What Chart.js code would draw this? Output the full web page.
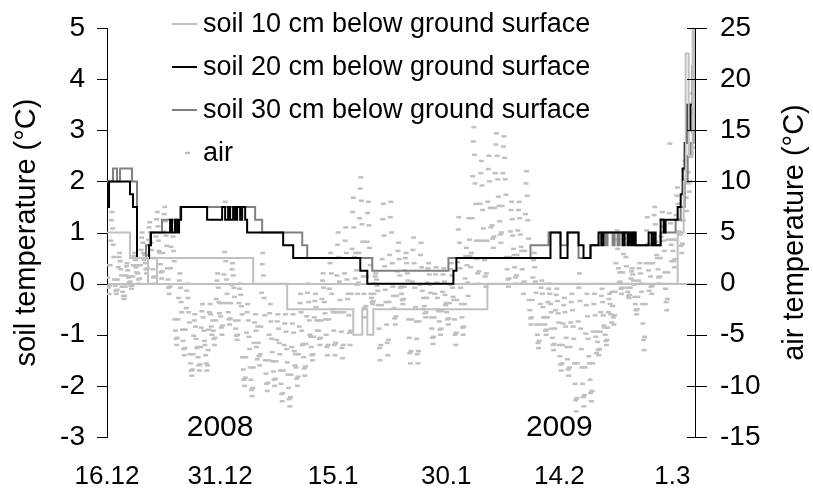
<!DOCTYPE html>
<html>
<head>
<meta charset="utf-8">
<script src="https://cdn.jsdelivr.net/npm/chart.js@4.4.1/dist/chart.umd.min.js"></script>
<style>
  html,body{margin:0;padding:0;background:#fff;}
</style>
</head>
<body>
<canvas id="chart" width="813" height="490"></canvas>
<script>
(function(){
  // x = days since 16.12.2008
  const xTickDays = [0, 15, 30, 45, 60, 75];
  const xTickLabels = ['16.12', '31.12', '15.1', '30.1', '14.2', '1.3'];
  const yearLabels = ['2008', '2009'];
  const yearDays = [15, 60];

  // soil temperature change points: [day, °C]
  const soil10 = [[0,1],[3.05,0.5],[5.44,0],[6.64,0.5],[19.39,0],[23.9,-0.5],[32.67,-1],[33.86,-0.5],[34.53,-1],[35.33,-0.5],
    [50.46,0],[75.7,1],[76.5,2],[76.76,4.5],[77.16,2.5],[77.69,5],[77.95,3],[78,3]];
  const soil20 = [[0,1.5],[0.27,2],[3.05,1.75],[3.45,1.5],[3.98,0.5],[5.58,0.75],[5.84,1],[8.37,1.25],[8.63,1],[9.03,1.25],[9.3,1],
    [9.56,1.25],[9.83,1.5],[13.28,1.25],[15.27,1.5],[15.67,1.25],[16.07,1.5],[16.33,1.25],[16.73,1.5],[17,1.25],[17.26,1.5],
    [17.66,1.25],[17.93,1.5],[18.33,1.25],[18.59,1],[23.37,0.75],[24.7,0.5],[33.6,0.25],[34.53,0],[45.95,0.25],[46.35,0.5],
    [58.83,1],[60.16,0.5],[61.09,1],[62.55,0.75],[63.21,0.5],[64.14,0.75],[65.2,1],[65.6,0.75],[65.87,1],[68.39,0.75],[68.66,1],
    [69.06,0.75],[69.32,1],[69.59,0.75],[69.85,1],[70.12,0.75],[71.85,1],[72.24,0.75],[72.51,1],[72.78,0.75],[73.44,1.25],
    [73.84,1],[74.1,1.25],[75.7,1.5],[76.1,1.75],[76.36,2.25],[76.63,2.75],[76.89,3.5],[77.16,3],[77.42,3.5],[77.69,4.25],
    [77.95,4.5],[78,4.5]];
  const soil30 = [[0,2],[0.8,2.25],[1.33,2],[1.73,2.25],[3.32,2],[3.98,0.5],[5.18,0.75],[5.71,1],[7.3,1.25],[9.7,1.5],[19.65,1.25],
    [20.58,1],[25.9,0.75],[26.56,0.5],[35.19,0.25],[45.29,0.5],[56.18,0.75],[58.57,1],[60.16,0.75],[61.09,1],[62.55,0.5],
    [64.14,0.75],[65.47,1],[66.14,0.75],[66.4,1],[67.07,0.75],[67.33,1],[67.73,0.75],[68,1],[70.12,0.75],[73.44,1],[75.43,1.25],
    [76.1,1.5],[76.63,2],[77.03,2.5],[77.42,2.75],[77.82,3.25],[78,3.25]];

  // air temperature, one reading every 2 hours from 16.12 00:00 (one row per day)
  const AIR_STEP_H = 2;
  const airTemp = [
    1.8,0.6,-0.4,-1,-0.2,1.8,4.2,6.2,7,5.4,3.8,2.6,
    0.4,-0.2,-0.7,-1,-0.6,0.4,1.6,2.6,3,2.2,1.4,0.8,
    -0.3,-0.8,-1.2,-1.5,-1.2,-0.3,0.8,1.7,2,1.3,0.6,0.1,
    0.7,0.2,-0.2,-0.5,-0.2,0.7,1.8,2.7,3,2.3,1.6,1.1,
    1.8,1,0.4,0,0.5,1.8,3.3,4.5,5,4,3,2.3,
    2.8,2,1.4,1,1.5,2.8,4.3,5.5,6,5,4,3.3,
    2.5,1.4,0.6,0,0.7,2.5,4.6,6.3,7,5.6,4.2,3.2,
    3,1.9,1.1,0.5,1.2,3,5.1,6.8,7.5,6.1,4.7,3.7,
    1.5,0.4,-0.4,-1,-0.3,1.5,3.6,5.3,6,4.6,3.2,2.2,
    -3.5,-4.6,-5.4,-6,-5.3,-3.5,-1.4,0.3,1,-0.4,-1.8,-2.8,
    -4.5,-5.6,-6.4,-7,-6.3,-4.5,-2.4,-0.7,0,-1.4,-2.8,-3.8,
    -6.9,-7.8,-8.5,-9,-8.4,-6.9,-5.1,-3.6,-3,-4.2,-5.4,-6.3,
    -6.2,-7.2,-8,-8.5,-7.9,-6.2,-4.3,-2.7,-2,-3.3,-4.6,-5.6,
    -6,-7,-7.8,-8.5,-8,-6.5,-4.5,-2.8,-2,-3,-4.2,-5,
    -3.6,-4.6,-5.4,-6,-5.3,-3.6,-1.5,0.3,1,-0.4,-1.8,-2.9,
    -1.9,-3.2,-4.3,-5,-4.1,-1.9,0.9,3.1,8,2.2,0.4,-1,
    -1.9,-2.8,-3.5,-4,-3.4,-1.9,-0.1,1.4,2,0.8,-0.4,-1.3,
    -3.6,-4.4,-5.1,-5.5,-5,-3.6,-1.9,-0.5,0,-1.1,-2.2,-3,
    -7.2,-8.4,-9.4,-10,-9.2,-7.2,-4.8,-2.8,-2,-3.6,-5.2,-6.4,
    -8.2,-9.4,-10.4,-11,-10.2,-8.2,-5.8,-3.8,-3,-4.6,-6.2,-7.4,
    -4.2,-5.8,-7.1,-8,-6.9,-4.2,-0.9,1.9,3,0.8,-1.4,-3.1,
    -7.5,-8.8,-9.8,-10.5,-9.7,-7.5,-5,-2.9,-2,-3.7,-5.4,-6.7,
    -7.6,-8.6,-9.4,-10,-9.3,-7.6,-5.5,-3.7,-3,-4.4,-5.8,-6.9,
    -8.5,-9.8,-10.8,-11.5,-10.7,-8.5,-6,-3.9,-3,-4.7,-6.4,-7.7,
    -8.9,-10.2,-11.3,-12,-11.1,-8.9,-6.2,-3.9,-3,-4.8,-6.6,-8,
    -6.9,-8.2,-9.3,-10,-9.1,-6.9,-4.2,-1.9,-1,-2.8,-4.6,-6,
    -5.9,-7.2,-8.3,-9,-8.1,-5.9,-3.2,-0.9,0,-1.8,-3.6,-5,
    -5.2,-6.2,-7,-7.5,-6.9,-5.2,-3.3,-1.7,-1,-2.3,-3.6,-4.6,
    -3.6,-4.6,-5.4,-6,-5.3,-3.6,-1.5,0.3,1,-0.4,-1.8,-2.9,
    -3.5,-5,-6.2,-7,-6,-3.5,-0.5,2,3,1,-1,-2.5,
    -2.8,-4.6,-6,-7,-5.8,-2.8,0.8,3.8,5,2.6,0.2,-1.6,
    -2.8,-4.7,-6.3,-7.3,-6,-2.8,1,4.2,5.5,3,0.4,-1.5,
    -1,-3.1,-4.8,-6,-4.6,-1,3.4,7,8.4,5.5,2.6,0.5,
    3,1.3,-0.1,-1,0.1,3,6.4,9.3,10.4,8.1,5.8,4.1,
    0.7,-1,-2.4,-3.3,-2.2,0.7,4.1,6.9,8,5.7,3.5,1.8,
    -1,-1.4,-1.8,-2,-1.7,-1,0,0.7,1,0.4,-0.2,-0.7,
    -2.1,-4.4,-6.3,-7.5,-6,-2.1,2.4,6.3,7.8,4.7,1.7,-0.6,
    -1.8,-4,-5.8,-7,-5.5,-1.8,2.8,6.5,8,5,2,-0.3,
    -1.2,-2.4,-3.4,-4,-3.2,-1.2,1.2,3.2,4,2.4,0.8,-0.4,
    -0.3,-1,-1.6,-2,-1.5,-0.3,1.3,2.5,3,2,1,0.3,
    -3.5,-5.3,-6.8,-7.8,-6.6,-3.5,0.2,3.3,4.5,2,-0.4,-2.3,
    -3.7,-5.4,-6.9,-7.8,-6.6,-3.7,-0.1,2.8,4,1.6,-0.7,-2.5,
    -1.4,-2.2,-2.9,-3.3,-2.8,-1.4,0.1,1.5,2,0.9,-0.1,-0.9,
    -3.3,-4.4,-5.3,-5.9,-5.2,-3.3,-1,0.9,1.6,0.1,-1.4,-2.5,
    -2.7,-3.7,-4.5,-5,-4.4,-2.7,-0.8,0.9,1.5,0.2,-1.1,-2.1,
    -1.9,-2.8,-3.5,-4,-3.4,-1.9,-0.1,1.4,2,0.8,-0.4,-1.3,
    -1.6,-3.5,-5,-6,-4.8,-1.6,2.1,5.3,6.5,4,1.5,-0.4,
    -2,-3.3,-4.3,-5,-4.2,-2,0.5,2.7,3.5,1.8,0.1,-1.2,
    6.4,4.3,2.7,1.6,3,6.4,10.5,13.9,15.3,12.6,9.8,7.8,
    4.2,2.4,1,0,1.2,4.2,7.8,10.8,12,9.6,7.2,5.4,
    4.2,2.3,0.7,-0.3,1,4.2,8,11.2,12.5,10,7.4,5.5,
    7.4,5.7,4.4,3.5,4.6,7.4,10.8,13.6,14.7,12.5,10.2,8.5,
    7.6,6.1,4.8,4,5,7.6,10.8,13.4,14.4,12.3,10.2,8.7,
    2.6,1.4,0.4,-0.3,0.5,2.6,5.1,7.2,8,6.3,4.7,3.4,
    2.8,1.6,0.6,0,0.8,2.8,5.2,7.2,8,6.4,4.8,3.6,
    3.2,1.4,0,-1,0.2,3.2,6.8,9.8,11,8.6,6.2,4.4,
    -1.6,-2.6,-3.4,-4,-3.3,-1.6,0.6,2.3,3,1.6,0.2,-0.9,
    -4,-5,-5.8,-6.3,-5.6,-4,-2,-0.4,0.3,-1,-2.3,-3.3,
    -3.3,-4,-4.6,-5,-4.5,-3.3,-1.8,-0.5,0,-1,-2,-2.8,
    -4.4,-5.3,-6,-6.5,-5.9,-4.4,-2.6,-1.1,-0.5,-1.7,-2.9,-3.8,
    -6,-7.1,-7.9,-8.5,-7.8,-6,-3.9,-2.1,-1.4,-2.8,-4.2,-5.3,
    -6.2,-7.4,-8.4,-9,-8.2,-6.2,-3.8,-1.8,-1,-2.6,-4.2,-5.4,
    -7.8,-9.8,-11.4,-12.5,-11.2,-7.8,-3.7,-0.4,1,-1.7,-4.4,-6.4,
    -8.2,-9.8,-11.1,-12,-10.9,-8.2,-4.9,-2.1,-1,-3.2,-5.4,-7.1,
    -7.8,-9.4,-10.7,-11.5,-10.5,-7.8,-4.7,-2,-1,-3.1,-5.2,-6.8,
    -4.7,-5.7,-6.5,-7,-6.4,-4.7,-2.8,-1.2,-0.5,-1.8,-3.1,-4.1,
    -4.3,-5,-5.6,-6,-5.5,-4.3,-2.8,-1.5,-1,-2,-3,-3.8,
    -0.8,-2.2,-3.3,-4,-3.1,-0.8,2,4.3,5.2,3.4,1.5,0.1,
    1.1,0.2,-0.5,-1,-0.4,1.1,2.9,4.4,5,3.8,2.6,1.7,
    -0.4,-0.8,-1.2,-1.4,-1.1,-0.4,0.5,1.2,1.5,0.9,0.3,-0.1,
    -1.3,-2,-2.6,-3,-2.5,-1.3,0.3,1.5,2,1,0,-0.8,
    -2,-3.9,-5.5,-6.5,-5.2,-2,2,5.2,6.5,3.9,1.3,-0.7,
    2,0.7,-0.3,-1,-0.2,2,4.5,6.7,7.5,5.8,4.1,2.8,
    2.5,1.4,0.6,0,0.7,2.5,4.6,6.3,7,5.6,4.2,3.2,
    1.1,-0.5,-1.8,-2.6,-1.5,1.1,4.3,6.9,13.7,5.9,3.8,2.2,
    4.3,3.2,2.2,1.6,2.4,4.3,6.7,8.6,9.4,7.8,6.3,5.1,
    6.2,4.8,3.7,3,3.9,6.2,8.9,11.1,12,10.2,8.4,7.1,
    12.4,10.9,9.8,9,10,12.4,15.2,17.6,18.6,16.7,14.8,13.3
  ];

  const FONT = '"Liberation Sans", Arial, sans-serif';
  const toXY = arr => arr.map(p => ({x: p[0], y: p[1]}));
  const noPad = s => { s.paddingTop = 0; s.paddingBottom = 0; s.paddingLeft = 0; s.paddingRight = 0; };

  const axisTicks = {
    id: 'axisTicks',
    afterDraw(chart){
      const ctx = chart.ctx, y = chart.scales.y, y2 = chart.scales.y2;
      ctx.save();
      ctx.strokeStyle = '#000';
      ctx.lineWidth = 1;
      ctx.beginPath();
      y.ticks.forEach(t => { const p = Math.round(y.getPixelForValue(t.value)) + 0.5; ctx.moveTo(y.right - 10, p); ctx.lineTo(y.right, p); });
      y2.ticks.forEach(t => { const p = Math.round(y2.getPixelForValue(t.value)) + 0.5; ctx.moveTo(y2.left - 8, p); ctx.lineTo(y2.left + 12, p); });
      ctx.stroke();
      ctx.restore();
    }
  };

  const extraText = {
    id: 'extraText',
    afterDraw(chart){
      const ctx = chart.ctx, xs = chart.scales.x, ys = chart.scales.y, area = chart.chartArea;
      ctx.save();
      ctx.fillStyle = '#000';
      // year labels
      ctx.font = '30px ' + FONT;
      ctx.textAlign = 'center';
      ctx.textBaseline = 'middle';
      yearLabels.forEach((t, i) => ctx.fillText(t, xs.getPixelForValue(yearDays[i]), ys.getPixelForValue(-2.82)));
      // axis titles, both reading bottom to top
      const midY = (area.top + area.bottom) / 2;
      ctx.font = '29px ' + FONT;
      [['soil temperature (°C)', 27], ['air temperature (°C)', 795]].forEach(([t, x]) => {
        ctx.save();
        ctx.translate(x, midY);
        ctx.rotate(-Math.PI / 2);
        ctx.fillText(t, 0, 0);
        ctx.restore();
      });
      // legend
      ctx.font = '27px ' + FONT;
      ctx.textAlign = 'left';
      chart.data.datasets.forEach((ds, i) => {
        const ly = 24 + i * 43;
        ctx.strokeStyle = ds.borderColor;
        ctx.lineWidth = ds.showLine === false ? 2.5 : 2;
        ctx.beginPath();
        if (ds.showLine === false) { ctx.moveTo(185, ly); ctx.lineTo(190, ly); }
        else { ctx.moveTo(172, ly); ctx.lineTo(197, ly); }
        ctx.stroke();
        ctx.fillText(ds.label, 203, ly + 1);
      });
      ctx.restore();
    }
  };

  const tickFont = { family: FONT, size: 28 };

  new Chart(document.getElementById('chart'), {
    type: 'line',
    data: {
      datasets: [
        { label: 'soil 10 cm below ground surface', data: toXY(soil10), borderColor: '#c0c0c0', borderWidth: 2, stepped: 'before', pointRadius: 0, yAxisID: 'y' },
        { label: 'soil 20 cm below ground surface', data: toXY(soil20), borderColor: '#000000', borderWidth: 2, stepped: 'before', pointRadius: 0, yAxisID: 'y' },
        { label: 'soil 30 cm below ground surface', data: toXY(soil30), borderColor: '#808080', borderWidth: 2, stepped: 'before', pointRadius: 0, yAxisID: 'y' },
        { label: 'air', data: airTemp.map((v, i) => ({x: i * AIR_STEP_H / 24, y: v})), showLine: false,
          pointStyle: 'line', pointRadius: 2.5, pointBorderWidth: 2.5, borderColor: '#c0c0c0', backgroundColor: '#c0c0c0', yAxisID: 'y2' }
      ]
    },
    options: {
      responsive: false, animation: false, devicePixelRatio: 1,
      layout: { padding: { top: 28, left: 0, right: 0, bottom: 0 }, autoPadding: false },
      plugins: { legend: { display: false }, tooltip: { enabled: false } },
      scales: {
        x: {
          type: 'linear', min: 0, max: 78,
          afterBuildTicks: s => { s.ticks = xTickDays.map(v => ({ value: v })); },
          afterFit: s => { s.height = 53; noPad(s); },
          ticks: { callback: v => xTickLabels[xTickDays.indexOf(v)] ?? '', font: { family: FONT, size: 26 }, color: '#000', padding: 24, maxRotation: 0, autoSkip: false },
          grid: { display: false, drawTicks: false },
          border: { display: false }
        },
        y: {
          min: -3, max: 5,
          afterFit: s => { s.width = 107; noPad(s); },
          ticks: { stepSize: 1, font: tickFont, color: '#000', padding: 22 },
          grid: { color: c => c.tick && c.tick.value === 0 ? '#c0c0c0' : 'rgba(0,0,0,0)', lineWidth: 2, drawTicks: false },
          border: { display: true, color: '#000', width: 1 }
        },
        y2: {
          position: 'right', min: -15, max: 25,
          afterFit: s => { s.width = 118; noPad(s); },
          ticks: { stepSize: 5, font: tickFont, color: '#000', padding: 25 },
          grid: { display: false, drawTicks: false },
          border: { display: true, color: '#000', width: 1 }
        }
      }
    },
    plugins: [axisTicks, extraText]
  });
})();
</script>
</body>
</html>
